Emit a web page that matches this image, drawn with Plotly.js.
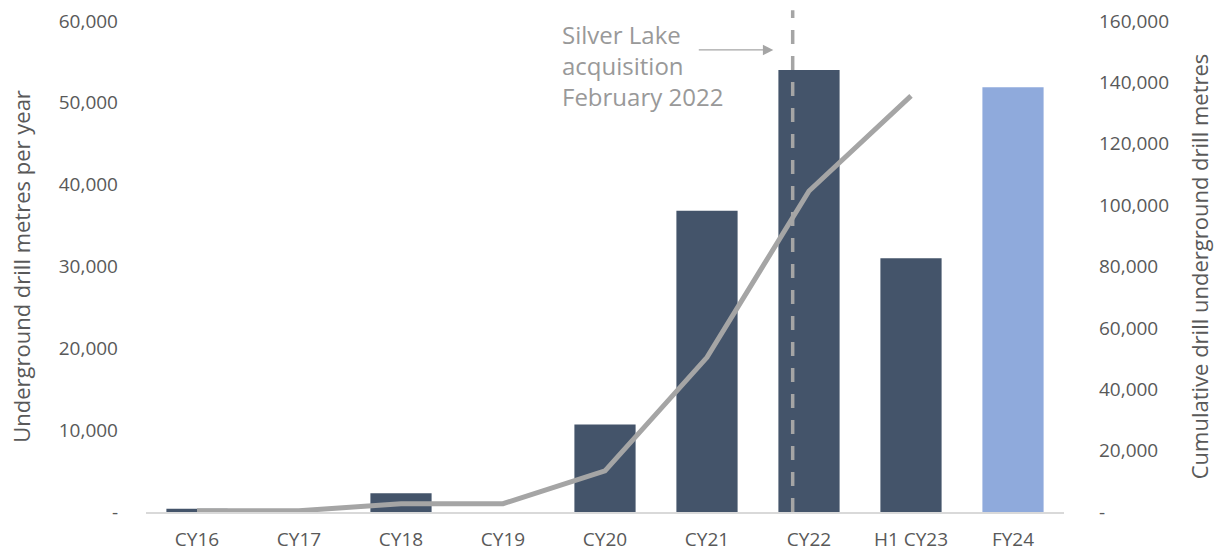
<!DOCTYPE html>
<html>
<head>
<meta charset="utf-8">
<script src="https://cdn.plot.ly/plotly-3.0.1.min.js"></script>
<style>html,body{margin:0;padding:0;background:#fff;}#chart{width:1224px;height:553px;}</style>
</head>
<body>
<div id="chart"></div>
<script>
const categories = ["CY16","CY17","CY18","CY19","CY20","CY21","CY22","H1 CY23","FY24"];
const annualMetres = [400, 0, 2300, 0, 10700, 36800, 54000, 31000, 51900];
const cumulativeMetres = [400, 400, 2700, 2700, 13400, 50400, 104600, 135600, null];
const barColors = ["#44546A","#44546A","#44546A","#44546A","#44546A","#44546A","#44546A","#44546A","#8FAADC"];
const leftTicks = [0, 10000, 20000, 30000, 40000, 50000, 60000];
const leftTickText = ["-", "10,000", "20,000", "30,000", "40,000", "50,000", "60,000"];
const rightTicks = [0, 20000, 40000, 60000, 80000, 100000, 120000, 140000, 160000];
const rightTickText = ["-", "20,000", "40,000", "60,000", "80,000", "100,000", "120,000", "140,000", "160,000"];
const acquisitionText = "Silver Lake<br>acquisition<br>February 2022";
const acquisitionPos = 5.84; // Feb 2022 within CY22 category

const font = "Open Sans, sans-serif";
const tickColor = "#595959";

const traces = [
  {
    type: "bar",
    x: categories,
    y: annualMetres,
    marker: {color: barColors},
    yaxis: "y",
    hoverinfo: "skip"
  },
  {
    type: "scatter",
    mode: "lines",
    x: categories,
    y: cumulativeMetres,
    yaxis: "y2",
    line: {color: "#A5A5A5", width: 5},
    hoverinfo: "skip"
  }
];

const layout = {
  width: 1224,
  height: 553,
  margin: {l: 146, r: 160, t: 21, b: 41},
  paper_bgcolor: "#ffffff",
  plot_bgcolor: "#ffffff",
  showlegend: false,
  bargap: 0.4,
  font: {family: font, color: tickColor, size: 19},
  xaxis: {
    type: "category",
    showgrid: false,
    zeroline: false,
    showline: true,
    linecolor: "#D9D9D9",
    linewidth: 1.5,
    ticks: "",
    tickfont: {family: font, size: 19, color: tickColor},
    ticklabelstandoff: 10,
    range: [-0.5, 8.5]
  },
  yaxis: {
    range: [0, 60000],
    tickvals: leftTicks,
    ticktext: leftTickText,
    showgrid: false,
    zeroline: false,
    showline: false,
    ticks: "",
    ticklabelstandoff: 27,
    tickfont: {family: font, size: 19, color: tickColor},
    title: {text: "Underground drill metres per year", font: {family: font, size: 22, color: tickColor}, standoff: 22}
  },
  yaxis2: {
    overlaying: "y",
    side: "right",
    range: [0, 160000],
    tickvals: rightTicks,
    ticktext: rightTickText,
    showgrid: false,
    zeroline: false,
    showline: false,
    ticks: "",
    ticklabelstandoff: 34,
    tickfont: {family: font, size: 19, color: tickColor},
    title: {text: "Cumulative drill underground drill metres", font: {family: font, size: 22, color: tickColor}, standoff: 24}
  },
  shapes: [
    {
      type: "line",
      xref: "x",
      yref: "paper",
      x0: acquisitionPos, x1: acquisitionPos,
      y0: 0, y1: 1.022,
      line: {color: "#A5A5A5", width: 3.5, dash: "14px,12px"},
      layer: "above"
    }
  ],
  annotations: [
    {
      xref: "x", yref: "paper",
      x: acquisitionPos - 0.19, y: 0.941,
      ax: -76, ay: 0,
      showarrow: true,
      arrowhead: 2,
      arrowsize: 1.6,
      arrowwidth: 1.3,
      arrowcolor: "#A5A5A5",
      text: ""
    },
    {
      xref: "x", yref: "paper",
      x: 3.56, y: 1.01,
      xanchor: "left", yanchor: "top",
      align: "left",
      showarrow: false,
      text: acquisitionText,
      font: {family: font, size: 24, color: "#999999"}
    }
  ]
};

Plotly.newPlot("chart", traces, layout, {staticPlot: true, displayModeBar: false});
</script>
</body>
</html>
